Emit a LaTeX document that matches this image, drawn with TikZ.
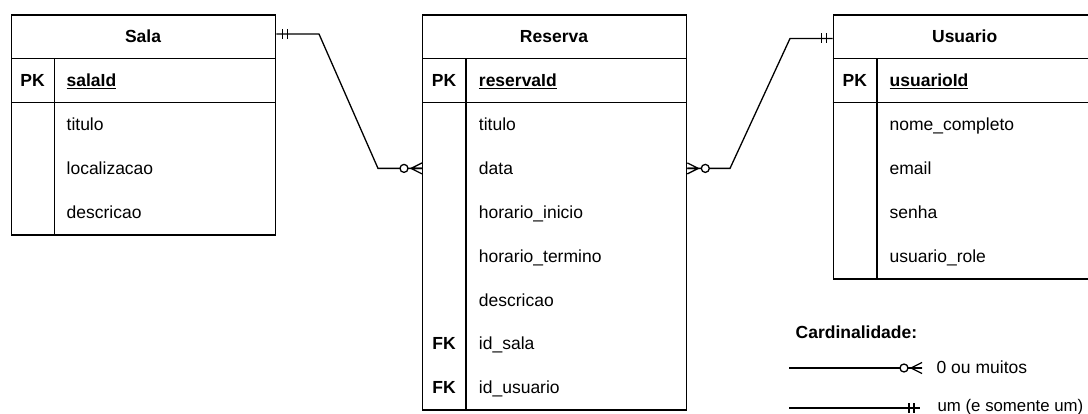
\documentclass[tikz,border=0pt]{standalone}
\usepackage{fontspec}
\setmainfont{Liberation Sans}
\newcommand\erfont{\fontsize{17.5pt}{21pt}\selectfont}
\tikzset{
  tbl/.style={draw, line width=1.3pt, minimum width=264pt, anchor=north west, inner sep=0pt},
  hdr/.style={font=\erfont\bfseries, anchor=base, yshift=-6.3pt, inner sep=0pt},
  keylbl/.style={font=\erfont\bfseries, anchor=base, yshift=-6.3pt, inner sep=0pt},
  pkfield/.style={font=\erfont\bfseries, anchor=base west, yshift=-6.3pt, inner sep=0pt},
  field/.style={font=\erfont, anchor=base west, yshift=-6.3pt, inner sep=0pt},
  rel/.style={line width=1.3pt},
  pics/zeromany/.style={code={
    \draw[rel] (-11,0) -- (0,-5.5) (-11,0) -- (0,0) (-11,0) -- (0,5.5);
    \draw[rel, fill=white] (-18,0) circle (4);
  }},
  pics/onlyone/.style={code={
    \draw[rel] (-6,-5) -- (-6,5) (-11,-5) -- (-11,5);
  }}
}
\begin{document}
\begin{tikzpicture}[x=1pt, y=-1pt, line width=1.3pt]
\clip (0,0) rectangle (1088,414);

% ---- Sala ----
\node[tbl, minimum height=220pt] (sala) at (11,14.3) {};
\draw (sala.west |- 0,58.7) -- (sala.east |- 0,58.7);
\draw (sala.west |- 0,102.7) -- (sala.east |- 0,102.7);
\draw (54.3,58.7) -- (54.3,234.3);
\node[hdr] (salahead) at (143,36.5) {Sala};
\node[keylbl] (salapk) at (32.6,80.7) {PK};
\node[pkfield] (salaid) at (66,80.7) {\underline{salaId}};
\node[field] (salatitulo) at (66,124.6) {titulo};
\node[field] (salaloc) at (66,168.4) {localizacao};
\node[field] (saladesc) at (66,212.2) {descricao};

% ---- Reserva ----
\node[tbl, minimum height=395pt] (reserva) at (422,14.3) {};
\draw (reserva.west |- 0,58.7) -- (reserva.east |- 0,58.7);
\draw (reserva.west |- 0,102.7) -- (reserva.east |- 0,102.7);
\draw (466,58.7) -- (466,409.3);
\node[hdr] (reservahead) at (554,36.5) {Reserva};
\node[keylbl] (reservapk) at (444,80.7) {PK};
\node[pkfield] (reservaid) at (478.3,80.7) {\underline{reservaId}};
\node[field] (rtitulo) at (478.3,124.6) {titulo};
\node[field] (rdata) at (478.3,168.4) {data};
\node[field] (rinicio) at (478.3,212.2) {horario\_inicio};
\node[field] (rtermino) at (478.3,256) {horario\_termino};
\node[field] (rdesc) at (478.3,299.8) {descricao};
\node[keylbl] (rfk1) at (444,343.6) {FK};
\node[field] (rsala) at (478.3,343.6) {id\_sala};
\node[keylbl] (rfk2) at (444,387.4) {FK};
\node[field] (rusuario) at (478.3,387.4) {id\_usuario};

% ---- Usuario ----
\node[tbl, minimum height=264pt] (usuario) at (832.7,14.3) {};
\draw (usuario.west |- 0,58.7) -- (usuario.east |- 0,58.7);
\draw (usuario.west |- 0,102.7) -- (usuario.east |- 0,102.7);
\draw (877,58.7) -- (877,278.3);
\node[hdr] (usuariohead) at (964.7,36.5) {Usuario};
\node[keylbl] (usuariopk) at (854.8,80.7) {PK};
\node[pkfield] (usuarioid) at (889,80.7) {\underline{usuarioId}};
\node[field] (unome) at (889,124.6) {nome\_completo};
\node[field] (uemail) at (889,168.4) {email};
\node[field] (usenha) at (889,212.2) {senha};
\node[field] (urole) at (889,256) {usuario\_role};

% ---- Relationships ----
\draw[rel] (sala.east |- 0,34) -- (319,34) -- (378,168.4) -- (reserva.west |- 0,168.4);
\pic[xscale=-1] at (sala.east |- 0,34) {onlyone};
\pic at (reserva.west |- 0,168.4) {zeromany};

\draw[rel] (reserva.east |- 0,168.4) -- (730,168.4) -- (790,38.5) -- (usuario.west |- 0,38.5);
\pic[xscale=-1] at (reserva.east |- 0,168.4) {zeromany};
\pic at (usuario.west |- 0,38.5) {onlyone};

% ---- Legend ----
\node[font=\erfont\bfseries, anchor=base west, inner sep=0pt] (cardtitle) at (795,338.3) {Cardinalidade:};
\coordinate (l1a) at (789,368);
\coordinate (l1b) at (922,368);
\draw[rel] (l1a) -- (l1b);
\pic at (l1b) {zeromany};
\node[field] (l1txt) at (936,367) {0 ou muitos};
\coordinate (l2a) at (789,408);
\coordinate (l2b) at (920,408);
\draw[rel] (l2a) -- (l2b);
\pic at (l2b) {onlyone};
\node[field, font=\fontsize{16.8pt}{20pt}\selectfont] (l2txt) at (937,405) {um (e somente um)};
\end{tikzpicture}
\end{document}
